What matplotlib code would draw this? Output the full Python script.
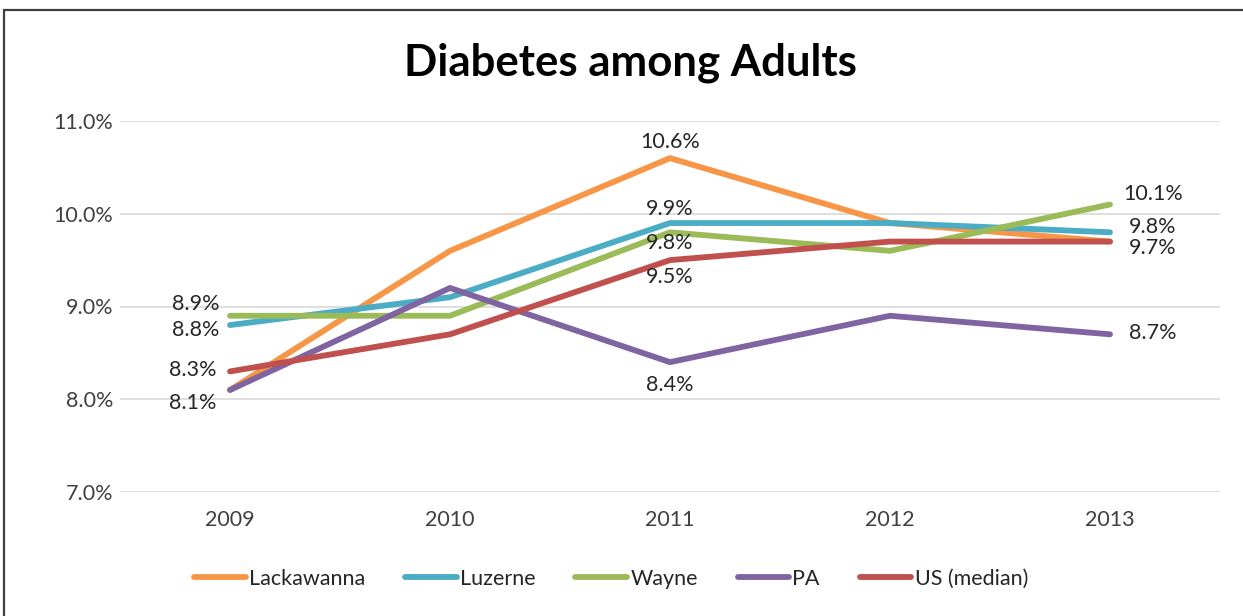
import matplotlib
matplotlib.use("Agg")
import matplotlib.pyplot as plt
from matplotlib.patches import Rectangle

years = ["2009", "2010", "2011", "2012", "2013"]
lackawanna = [8.1, 9.6, 10.6, 9.9, 9.7]
luzerne = [8.8, 9.1, 9.9, 9.9, 9.8]
wayne = [8.9, 8.9, 9.8, 9.6, 10.1]
pa = [8.1, 9.2, 8.4, 8.9, 8.7]
us_median = [8.3, 8.7, 9.5, 9.7, 9.7]

series_names = ["Lackawanna", "Luzerne", "Wayne", "PA", "US (median)"]
series_values = [lackawanna, luzerne, wayne, pa, us_median]
colors = ["#F79646", "#4BACC6", "#9BBB59", "#8064A2", "#C0504D"]
yticks = [7.0, 8.0, 9.0, 10.0, 11.0]

plt.rcParams['font.family'] = ['Lato', 'DejaVu Sans']

fig = plt.figure(figsize=(12.43, 6.16), dpi=100)
ax = fig.add_axes([120/1243, 1-492/616, (1220-120)/1243, (492-121)/616])

x = list(range(len(years)))
for name, vals, c in zip(series_names, series_values, colors):
    ax.plot(x, vals, color=c, lw=4.2, label=name, solid_capstyle='round', solid_joinstyle='round')

ax.set_xlim(-0.5, 4.5)
ax.set_ylim(7.0, 11.0)
ax.set_yticks(yticks)
ax.set_yticklabels([f"{v:.1f}%" for v in yticks])
ax.set_xticks(x)
ax.set_xticklabels(years)
ax.grid(axis='y', color='#D9D9D9', lw=1.2)
ax.set_axisbelow(True)
for s in ax.spines.values():
    s.set_visible(False)
ax.tick_params(axis='both', length=0, labelsize=15.5, colors='#404040')
ax.tick_params(axis='y', pad=5)
ax.tick_params(axis='x', pad=13)

def lab(i, vals, dx, dy, ha='center'):
    ax.annotate(f"{vals[i]:.1f}%", (i, vals[i]), xytext=(dx, dy), textcoords='offset pixels',
                ha=ha, va='center', fontsize=15.5, color='#262626')

# 2009 labels
lab(0, wayne, -34, 12)
lab(0, luzerne, -34, -5)
lab(0, us_median, -37, 1)
lab(0, pa, -37, -13)
# 2011 labels
lab(2, lackawanna, 0, 16)
lab(2, luzerne, 0, 14)
lab(2, wayne, 0, -11)
lab(2, us_median, 0, -17)
lab(2, pa, 0, -23)
# 2013 labels
lab(4, wayne, 43, 10)
lab(4, luzerne, 43, 5)
lab(4, us_median, 43, -6)
lab(4, pa, 43, 1)

fig.text(630/1243, 1-63/616, "Diabetes among Adults", ha='center', va='center',
         fontsize=31.5, fontweight='bold', color='black')

leg = ax.legend(loc='center', bbox_to_anchor=(611/1243, 1-579/616), bbox_transform=fig.transFigure,
                ncol=5, frameon=False, fontsize=15.5, handlelength=2.4, columnspacing=1.85, handletextpad=0.15)
for t in leg.get_texts():
    t.set_color('#262626')

fig.patches.append(Rectangle((4/1243, -0.1), 1.1, 1-10/616 + 0.1, transform=fig.transFigure,
                             fill=False, ec='#404040', lw=1.6, clip_on=False))

fig.savefig("out.png", dpi=100)
